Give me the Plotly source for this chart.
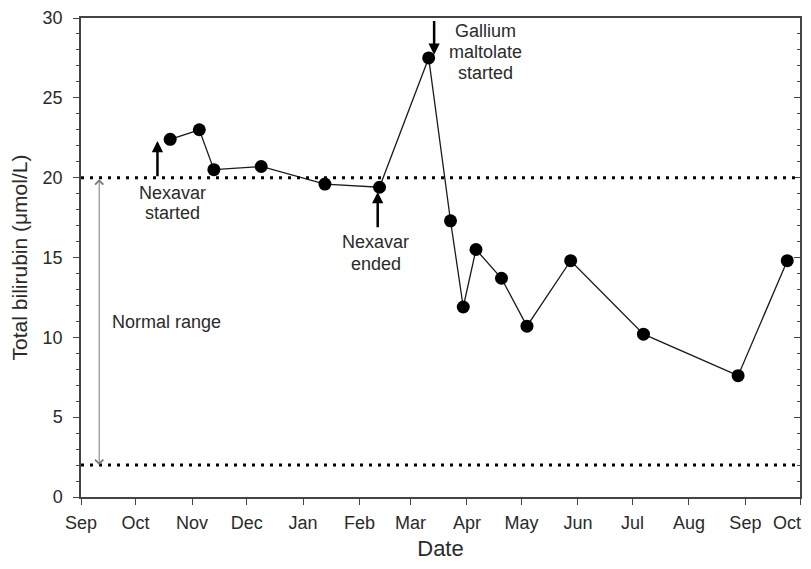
import plotly.graph_objects as go

dates = ["2009-10-20", "2009-11-05", "2009-11-13", "2009-12-09", "2010-01-13",
         "2010-02-12", "2010-03-11", "2010-03-23", "2010-03-30", "2010-04-06",
         "2010-04-20", "2010-05-04", "2010-05-28", "2010-07-07", "2010-08-28",
         "2010-09-24"]
bilirubin = [22.4, 23.0, 20.5, 20.7, 19.6, 19.4, 27.5, 17.3, 11.9, 15.5,
             13.7, 10.7, 14.8, 10.2, 7.6, 14.8]

tick_dates = ["2009-09-01", "2009-10-01", "2009-11-01", "2009-12-01", "2010-01-01",
              "2010-02-01", "2010-03-01", "2010-04-01", "2010-05-01", "2010-06-01",
              "2010-07-01", "2010-08-01", "2010-09-01", "2010-10-01"]
tick_labels = ["Sep", "Oct", "Nov", "Dec", "Jan", "Feb", "Mar", "Apr", "May",
               "Jun", "Jul", "Aug", "Sep", "Oct"]
y_ticks = [0, 5, 10, 15, 20, 25, 30]

normal_upper = 20
normal_lower = 2

FONT = "Liberation Sans, Arial, sans-serif"
TXT = "#2a2a2a"
AX = "#444444"
ANN_SIZE = 18
TICK_SIZE = 18

fig = go.Figure()
fig.add_trace(go.Scatter(
    x=dates, y=bilirubin, mode="lines+markers",
    line=dict(color="#1a1a1a", width=1.3),
    marker=dict(color="black", size=13),
    showlegend=False, cliponaxis=False,
))
fig.add_trace(go.Scatter(x=[dates[0]], y=[None], yaxis="y2", showlegend=False))

for yv in (normal_upper, normal_lower):
    fig.add_shape(type="line", xref="paper", x0=0, x1=1, yref="y", y0=yv, y1=yv,
                  line=dict(color="black", width=3, dash="3px,6px"))

anns = [
    dict(x="2009-10-13", y=22.3, ax="2009-10-13", ay=20.0, arrowwidth=2.5,
         arrowhead=2, arrowsize=0.9, arrowcolor="black"),
    dict(x="2010-02-11", y=19.1, ax="2010-02-11", ay=16.8, arrowwidth=2.5,
         arrowhead=2, arrowsize=0.9, arrowcolor="black"),
    dict(x="2010-03-14", y=27.7, ax="2010-03-14", ay=29.9, arrowwidth=2.5,
         arrowhead=2, arrowsize=0.9, arrowcolor="black"),
    dict(x="2009-09-11", y=normal_lower, ax="2009-09-11", ay=normal_upper,
         arrowwidth=1, arrowhead=4, startarrowhead=4, arrowside="end+start",
         arrowsize=1.6, startarrowsize=1.6, arrowcolor="#777777"),
]
for a in anns:
    fig.add_annotation(text="", showarrow=True, xref="x", yref="y",
                       axref="x", ayref="y", **a)

texts = [
    ("2009-10-21", 19.04, "Nexavar", "center"),
    ("2009-10-21", 17.80, "started", "center"),
    ("2010-02-10", 15.99, "Nexavar", "center"),
    ("2010-02-10", 14.62, "ended", "center"),
    ("2010-04-11", 29.20, "Gallium", "center"),
    ("2010-04-11", 27.84, "maltolate", "center"),
    ("2010-04-11", 26.56, "started", "center"),
    ("2009-09-17", 10.93, "Normal range", "left"),
]
for x, y, t, xa in texts:
    fig.add_annotation(x=x, y=y, text=t, showarrow=False, xanchor=xa,
                       yanchor="middle",
                       font=dict(family=FONT, size=ANN_SIZE, color=TXT))

# last tick label sits at the very edge of the figure: draw it right-aligned
shown_labels = tick_labels[:-1] + [""]
fig.add_annotation(x=tick_dates[-1], xref="x", y=0, yref="paper",
                   text=tick_labels[-1], showarrow=False, xanchor="right",
                   xshift=3, yanchor="middle", yshift=-26,
                   font=dict(family=FONT, size=TICK_SIZE, color=TXT))

# page body has an 8px margin on every side; figure sized to fit inside it
fig.update_layout(
    width=795, height=553,
    margin=dict(l=73, r=3, t=10, b=64),
    paper_bgcolor="white", plot_bgcolor="white",
    font=dict(family=FONT, color=TXT),
    xaxis=dict(
        range=["2009-09-01", "2010-10-01"], tickmode="array",
        tickvals=tick_dates, ticktext=shown_labels, ticks="outside", ticklen=6,
        tickcolor=AX, tickwidth=1.3, showline=True, linecolor=AX, linewidth=1.5,
        mirror=True, showgrid=False, zeroline=False, automargin=False,
        ticklabelstandoff=3,
        tickfont=dict(size=TICK_SIZE, color=TXT),
        title=dict(text="Date", font=dict(size=22, color=TXT), standoff=17),
    ),
    yaxis=dict(
        range=[0, 30], tickvals=y_ticks, ticks="outside",
        ticklen=6, tickcolor=AX, tickwidth=1.3, showline=True, linecolor=AX,
        linewidth=1.5, mirror=True, showgrid=False, zeroline=False,
        automargin=False, ticklabelstandoff=7,
        tickfont=dict(size=TICK_SIZE, color=TXT),
        minor=dict(dtick=1, ticks="outside", ticklen=3, tickcolor=AX, showgrid=False),
        title=dict(text="Total bilirubin (μmol/L)", font=dict(size=21, color=TXT),
                   standoff=20),
    ),
    yaxis2=dict(
        overlaying="y", side="right", range=[0, 30], matches="y",
        tickvals=y_ticks, ticks="inside", ticklen=6,
        tickcolor=AX, tickwidth=1.3, showticklabels=False, showgrid=False,
        zeroline=False, showline=False, automargin=False,
        minor=dict(dtick=1, ticks="inside", ticklen=3, tickcolor=AX, showgrid=False),
    ),
)

fig.write_html("out.html")
